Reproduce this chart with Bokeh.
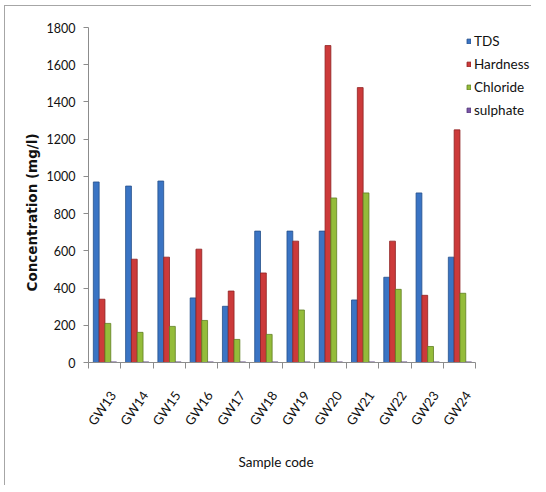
from bokeh.plotting import figure
from bokeh.models import (ColumnDataSource, Range1d, FixedTicker, Legend, LegendItem,
                          CustomJSTickFormatter, Title, Spacer)
from bokeh.layouts import row, column
from bokeh.transform import dodge
from bokeh.embed import file_html
from bokeh.resources import INLINE

categories = ["GW13", "GW14", "GW15", "GW16", "GW17", "GW18",
              "GW19", "GW20", "GW21", "GW22", "GW23", "GW24"]
tds = [970, 948, 975, 347, 302, 706, 706, 706, 336, 458, 911, 566]
hardness = [340, 555, 566, 609, 384, 481, 652, 1703, 1477, 652, 361, 1250]
chloride = [210, 162, 194, 226, 124, 151, 282, 884, 911, 393, 86, 372]
sulphate = [3, 3, 3, 3, 3, 3, 3, 3, 3, 3, 3, 3]
y_ticks = [0, 200, 400, 600, 800, 1000, 1200, 1400, 1600, 1800]

n = len(categories)
centers = [i + 0.5 for i in range(n)]
label_pos = [i + 0.75 for i in range(n)]
bounds = list(range(n + 1))

FRAME_W = 443
CAT_PX = 32.2
x_end = FRAME_W / CAT_PX

src = ColumnDataSource(dict(x=centers, tds=tds, hardness=hardness,
                            chloride=chloride, sulphate=sulphate))

p = figure(frame_width=FRAME_W, frame_height=334,
           x_range=Range1d(0, x_end), y_range=Range1d(0, 1800),
           output_backend="svg", toolbar_location=None,
           min_border_left=83, min_border_right=0,
           min_border_top=21, min_border_bottom=116)
p.styles = {"border-left": "1px solid #a6a6a6", "border-top": "1px solid #a6a6a6"}
p.outline_line_color = None
p.xgrid.visible = False
p.ygrid.visible = False

series = [("tds", "TDS", "#3a74c4", "#244f8a"),
          ("hardness", "Hardness", "#cc3a3a", "#8e2222"),
          ("chloride", "Chloride", "#94bc3a", "#5f7f22"),
          ("sulphate", "sulphate", "#7a55a8", "#4f3373")]
offsets = [-0.26, -0.08, 0.10, 0.28]
items = []
for (col, label, fill, line), off in zip(series, offsets):
    r = p.vbar(x=dodge("x", off, range=p.x_range), top=col, width=0.18, bottom=0,
               source=src, fill_color=fill, line_color=line, line_width=0.8)
    items.append(LegendItem(label=label, renderers=[r]))

legend = Legend(items=items, location=(378, 244), padding=0, margin=0,
                border_line_alpha=0, background_fill_alpha=0,
                glyph_width=5, glyph_height=6, label_height=16, spacing=7,
                label_standoff=3, label_text_font="Lato", label_text_font_size="13.5px",
                label_text_color="#111111")
p.add_layout(legend)

# y axis
p.yaxis.ticker = FixedTicker(ticks=y_ticks)
p.yaxis.major_label_text_font = "Lato"
p.yaxis.major_label_text_font_size = "12.5px"
p.yaxis.major_label_text_color = "#111111"
p.yaxis.major_label_standoff = 8
p.yaxis.major_tick_out = 5
p.yaxis.major_tick_in = 0
p.yaxis.minor_tick_out = 0
p.yaxis.minor_tick_in = 0
p.yaxis.axis_line_color = "#8c8c8c"
p.yaxis.major_tick_line_color = "#8c8c8c"

ytitle = Title(text="Concentration (mg/l)", align="left", offset=71, standoff=8,
               text_font="DejaVu Sans", text_font_style="bold",
               text_font_size="13.5px", text_color="#111111")
p.add_layout(ytitle, "left")

# x axis
p.xaxis.bounds = (0, n)
p.xaxis.ticker = FixedTicker(ticks=label_pos, minor_ticks=bounds)
p.xaxis.formatter = CustomJSTickFormatter(args=dict(cats=categories),
                                          code="return cats[Math.floor(tick)];")
p.xaxis.major_label_orientation = 0.96
p.xaxis.major_label_text_font = "Lato"
p.xaxis.major_label_text_font_size = "13px"
p.xaxis.major_label_text_color = "#111111"
p.xaxis.major_label_standoff = 24
p.xaxis.major_tick_out = 0
p.xaxis.major_tick_in = 0
p.xaxis.minor_tick_out = 6
p.xaxis.minor_tick_in = 0
p.xaxis.minor_tick_line_color = "#8c8c8c"
p.xaxis.axis_line_color = "#8c8c8c"

xtitle = Title(text="Sample code", align="left", offset=150, standoff=33,
               text_font="Lato", text_font_style="normal",
               text_font_size="13.5px", text_color="#111111")
p.add_layout(xtitle, "below")

layout = column(Spacer(height=5), row(Spacer(width=4), p))
open("out.html", "w").write(file_html(layout, INLINE))
